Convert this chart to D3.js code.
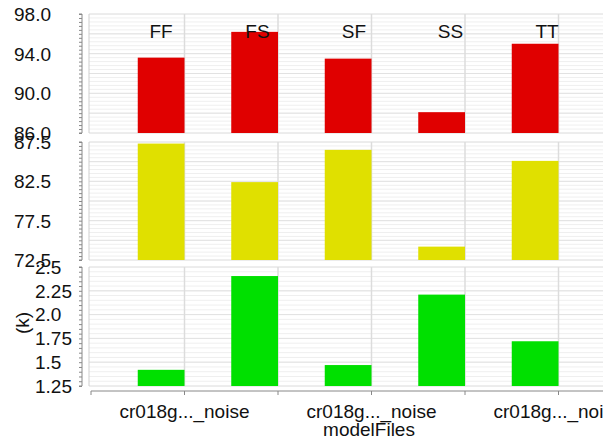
<!DOCTYPE html>
<html>
<head>
<meta charset="utf-8">
<script src="https://cdn.jsdelivr.net/npm/d3@7"></script>
<style>
  html, body { margin: 0; padding: 0; background: #fff; }
  svg { display: block; font-family: "Liberation Sans", Arial, Helvetica, sans-serif; }
</style>
</head>
<body>
<svg id="chart" width="603" height="445"></svg>
<script>
// Categories shown as column headers
const categories = ["FF", "FS", "SF", "SS", "TT"];

// One series per stacked panel
const topValues = [93.6, 96.2, 93.5, 88.1, 95.0];
const middleValues = [87.3, 82.4, 86.5, 74.2, 85.1];
const bottomValues = [1.42, 2.405, 1.47, 2.21, 1.72];

// Y tick values and labels per panel
const topTicks = [98, 94, 90, 86];
const topTickLabels = ["98.0", "94.0", "90.0", "86.0"];
const middleTicks = [87.5, 82.5, 77.5, 72.5];
const middleTickLabels = ["87.5", "82.5", "77.5", "72.5"];
const bottomTicks = [2.5, 2.25, 2.0, 1.75, 1.5, 1.25];
const bottomTickLabels = ["2.5", "2.25", "2.0", "1.75", "1.5", "1.25"];

// X axis labels and titles
const xTickLabels = ["cr018g..._noise", "cr018g..._noise", "cr018g..._noise"];
const xTitle = "modelFiles";
const bottomYTitle = "(k)";

const svg = d3.select("#chart");
const plotLeft = 89, plotRight = 603;
const axisX = 82;

const x = d3.scaleBand().domain(categories).range([91, 558.5]).paddingInner(0).paddingOuter(0);
const bw = x.bandwidth();
const headerX = d3.scalePoint().domain(categories).range([161, 547]);

const panels = [
  { values: topValues, domain: [86, 98], range: [133, 14], color: "#e00000",
    ticks: topTicks, labels: topTickLabels, labelX: 14, minor: 0.4, major: 2 },
  { values: middleValues, domain: [72.5, 87.5], range: [260, 142], color: "#e0e000",
    ticks: middleTicks, labels: middleTickLabels, labelX: 14, minor: 0.5, major: 2.5 },
  { values: bottomValues, domain: [1.25, 2.5], range: [386, 267], color: "#00e000",
    ticks: bottomTicks, labels: bottomTickLabels, labelX: 35, minor: 0.05, major: 0.25 }
];

const edges = d3.range(categories.length + 1).map(i => x.range()[0] + i * bw);

panels.forEach(p => {
  const y = d3.scaleLinear().domain(p.domain).range(p.range);
  const g = svg.append("g");
  const nMinor = Math.round((p.domain[1] - p.domain[0]) / p.minor);
  const minorVals = d3.range(nMinor + 1).map(i => p.domain[0] + i * p.minor);
  const nMajor = Math.round((p.domain[1] - p.domain[0]) / p.major);
  const majorVals = d3.range(nMajor + 1).map(i => p.domain[0] + i * p.major);

  // horizontal minor and major gridlines
  g.selectAll("line.minor").data(minorVals).join("line")
    .attr("x1", plotLeft).attr("x2", plotRight)
    .attr("y1", d => y(d)).attr("y2", d => y(d))
    .attr("stroke", "#efefef").attr("stroke-width", 1);
  g.selectAll("line.major").data(majorVals).join("line")
    .attr("x1", plotLeft).attr("x2", plotRight)
    .attr("y1", d => y(d)).attr("y2", d => y(d))
    .attr("stroke", "#e2e2e2").attr("stroke-width", 1);

  // vertical gridlines at category boundaries
  g.selectAll("line.vgrid").data(edges.slice(1)).join("line")
    .attr("x1", d => d).attr("x2", d => d)
    .attr("y1", p.range[1]).attr("y2", p.range[0])
    .attr("stroke", "#dcdcdc").attr("stroke-width", 1.5);

  // panel left border
  g.append("line").attr("x1", plotLeft).attr("x2", plotLeft)
    .attr("y1", p.range[1]).attr("y2", p.range[0])
    .attr("stroke", "#cfcfcf");

  // bars in the right half of each band
  g.selectAll("rect").data(p.values).join("rect")
    .attr("x", (d, i) => x(categories[i]) + bw / 2)
    .attr("width", bw / 2)
    .attr("y", d => y(d))
    .attr("height", d => y(p.domain[0]) - y(d))
    .attr("fill", p.color);

  // y axis with minor ticks
  const axis = d3.axisLeft(y).tickValues(minorVals).tickSize(3).tickFormat("");
  const ag = g.append("g").attr("transform", `translate(${axisX},0)`).call(axis);
  ag.select(".domain").attr("stroke", "#888").attr("d", `M-3,${p.range[0]}H0V${p.range[1]}H-3`);
  ag.selectAll(".tick line").attr("stroke", "#888");

  // tick labels
  g.selectAll("text.tl").data(p.ticks).join("text")
    .attr("x", p.labelX).attr("y", d => y(d)).attr("dy", "0.36em")
    .attr("font-size", 19).attr("fill", "#111")
    .text((d, i) => p.labels[i]);

  p.y = y;
});

// category headers over the top panel
svg.selectAll("text.hdr").data(categories).join("text")
  .attr("x", d => headerX(d)).attr("y", 38)
  .attr("text-anchor", "middle").attr("font-size", 19).attr("fill", "#111")
  .text(d => d);

// bottom y title
svg.append("text")
  .attr("transform", "translate(29,323) rotate(-90)")
  .attr("text-anchor", "middle").attr("font-size", 19).attr("fill", "#111")
  .text(bottomYTitle);

// x axis
const xa = svg.append("g");
xa.append("line").attr("x1", edges[0]).attr("x2", plotRight)
  .attr("y1", 391).attr("y2", 391).attr("stroke", "#888");
xa.selectAll("line.t").data(edges).join("line")
  .attr("x1", d => d).attr("x2", d => d).attr("y1", 391).attr("y2", 395)
  .attr("stroke", "#888");
xa.selectAll("text").data(xTickLabels).join("text")
  .attr("x", (d, i) => edges[1 + i * 2]).attr("y", 418)
  .attr("text-anchor", "middle").attr("font-size", 19).attr("fill", "#111")
  .text(d => d);

svg.append("text").attr("x", 369).attr("y", 436)
  .attr("text-anchor", "middle").attr("font-size", 19).attr("fill", "#111")
  .text(xTitle);
</script>
</body>
</html>
